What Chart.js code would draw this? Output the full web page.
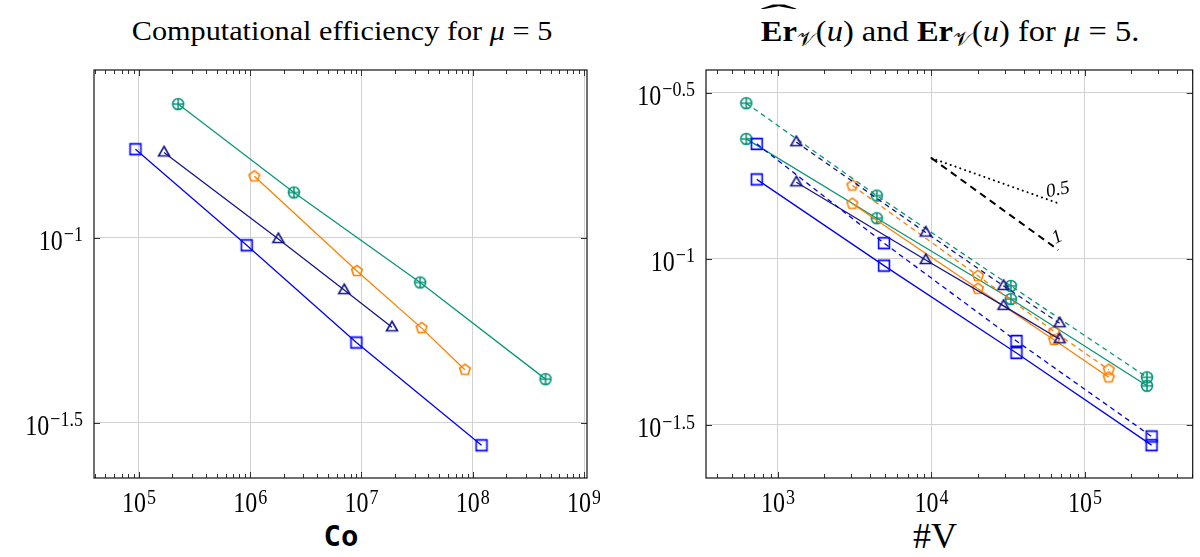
<!DOCTYPE html>
<html>
<head>
<meta charset="utf-8">
<title>Computational efficiency and error estimates</title>
<script src="https://cdn.jsdelivr.net/npm/chart.js"></script>
<style>
  body { margin: 0; width: 1200px; height: 557px; position: relative; background: #fff; overflow: hidden; font-family: "Liberation Serif", serif; color: #000; }
  canvas { position: absolute; top: 0; }
  #effChart { left: 0; }
  #errChart { left: 600px; }
  .txt { position: absolute; white-space: nowrap; line-height: 1; transform: translateX(-50%); }
  #t1 { left: 342px; top: 17px; font-size: 28px; transform: translateX(-50%) scaleX(1.08); }
  #t2 { left: 950px; top: 17px; font-size: 29px; transform: translateX(-50%) scaleX(1.12); }
  #a1 { left: 341px; top: 522px; font-family: "DejaVu Sans Mono", monospace; font-weight: bold; font-size: 29px; }
  #a2 { left: 935px; top: 518px; font-size: 36px; }
  .hat { position: relative; display: inline-block; font-weight: bold; }
  .hat .mk { position: absolute; left: 50%; top: -16px; transform: translateX(-50%) scaleX(3.4); font-weight: normal; }
  sub { font-size: 20px; vertical-align: -5px; }
</style>
</head>
<body>
<div class="txt" id="t1">Computational efficiency for <i>μ</i> = 5</div>
<div class="txt" id="t2"><span class="hat">Er<span class="mk">ˆ</span></span><sub>𝒱</sub>(<i>u</i>) and <b>Er</b><sub>𝒱</sub>(<i>u</i>) for <i>μ</i> = 5.</div>
<div class="txt" id="a1">Co</div>
<div class="txt" id="a2">#V</div>
<canvas id="effChart" width="600" height="557"></canvas>
<canvas id="errChart" width="600" height="557"></canvas>

<script>
// left panel: cost Co against error Er
const coSquares = [9.3e4, 9.3e5, 9.0e6, 1.2e8];
const erSquares = [0.1734, 0.0954, 0.0521, 0.0275];
const coTriangles = [1.68e5, 1.79e6, 7.0e6, 1.88e7];
const erTriangles = [0.1700, 0.0992, 0.0722, 0.0573];
const coPentagons = [1.09e6, 9.1e6, 3.47e7, 8.5e7];
const erPentagons = [0.1465, 0.0813, 0.0570, 0.0440];
const coCircles = [2.25e5, 2.47e6, 3.37e7, 4.51e8];
const erCircles = [0.2296, 0.1325, 0.0757, 0.0415];

// right panel: #V against estimate (dashed) and error (solid)
const nvSquares = [728, 4910, 35800, 271800];
const estSquares = [0.2218, 0.1115, 0.0566, 0.0292];
const nvTriangles = [1318, 9180, 29500, 68400];
const estTriangles = [0.2245, 0.1200, 0.0829, 0.0640];
const nvPentagons = [3053, 20100, 63100, 142900];
const estPentagons = [0.1662, 0.0889, 0.0604, 0.0464];
const nvCircles = [622, 4405, 32900, 253600];
const estCircles = [0.2940, 0.1550, 0.0829, 0.0440];

// slope guides
const slopeX = [1.0e4, 6.7e4];
const slopeHalf = [0.201, 0.147];
const slopeOne = [0.201, 0.1064];

// decade exponents used for ticks
const effXExp = [5, 6, 7, 8, 9];
const effYExp = [-1, -1.5];
const errXExp = [3, 4, 5];
const errYExp = [-0.5, -1, -1.5];

const BLUE = '#0000ff', NAVY = '#14148c', ORANGE = '#ff8000', TEAL = '#0a9678';

function marker(kind, color) {
  const s = 18, c = document.createElement('canvas');
  c.width = s; c.height = s;
  const g = c.getContext('2d');
  g.strokeStyle = color; g.lineWidth = 1.6;
  const m = s / 2;
  g.beginPath();
  if (kind === 'square') {
    g.rect(m - 5.4, m - 5.4, 10.8, 10.8);
  } else if (kind === 'triangle') {
    g.moveTo(m, m - 6); g.lineTo(m + 5.5, m + 3.5); g.lineTo(m - 5.5, m + 3.5); g.closePath();
  } else if (kind === 'pentagon') {
    for (let k = 0; k < 5; k++) {
      const a = -Math.PI / 2 + k * 2 * Math.PI / 5;
      const px = m + 5.6 * Math.cos(a), py = m + 5.6 * Math.sin(a);
      k ? g.lineTo(px, py) : g.moveTo(px, py);
    }
    g.closePath();
  } else {
    g.arc(m, m, 5.5, 0, 2 * Math.PI);
    g.moveTo(m - 5.5, m); g.lineTo(m + 5.5, m);
    g.moveTo(m, m - 5.5); g.lineTo(m, m + 5.5);
  }
  g.stroke();
  return c;
}

const pts = (xs, ys) => xs.map((v, i) => ({x: v, y: ys[i]}));

function series(xs, ys, color, kind, dashed) {
  return {
    data: pts(xs, ys),
    showLine: true,
    borderColor: color,
    borderWidth: 1.3,
    borderDash: dashed ? [5, 4] : [],
    pointStyle: marker(kind, color),
    pointRadius: 6,
    pointHoverRadius: 6
  };
}

function guide(ys, dash, cap) {
  return {
    data: pts(slopeX, ys),
    showLine: true,
    borderColor: '#000',
    borderWidth: 2,
    borderDash: dash,
    borderCapStyle: cap,
    pointRadius: 0
  };
}

function powLabel(ctx, exp, x, y, align) {
  const big = '24px "Liberation Serif"', small = '18px "Liberation Serif"';
  const sup = exp < 0 ? '\u2212' + String(-exp) : String(exp);
  ctx.font = big;
  const w1 = ctx.measureText('10').width;
  ctx.font = small;
  const w2 = ctx.measureText(sup).width;
  const total = w1 + 1 + w2;
  const x0 = align === 'center' ? x - total / 2 : x - total;
  ctx.save();
  ctx.translate(x0, y);
  ctx.scale(1, 1.2);
  ctx.font = big;
  ctx.fillText('10', 0, 0);
  ctx.font = small;
  ctx.fillText(sup, w1 + 1, -7);
  ctx.restore();
}

const framePlugin = {
  id: 'frame',
  afterDraw(chart, args, opts) {
    const {ctx, chartArea: a, scales: {x, y}} = chart;
    ctx.save();
    ctx.strokeStyle = '#333';
    ctx.lineWidth = 1;
    ctx.beginPath();
    const lo = Math.floor(Math.log10(x.min)), hi = Math.ceil(Math.log10(x.max));
    for (let e = lo; e <= hi; e++) {
      for (let m = 1; m < 10; m++) {
        const v = m * Math.pow(10, e);
        if (v < x.min || v > x.max) continue;
        const px = Math.round(x.getPixelForValue(v)) + 0.5;
        const len = m === 1 ? 6 : 4;
        ctx.moveTo(px, a.top); ctx.lineTo(px, a.top + len);
        ctx.moveTo(px, a.bottom); ctx.lineTo(px, a.bottom - len);
      }
    }
    opts.yExp.forEach(e => {
      const py = Math.round(y.getPixelForValue(Math.pow(10, e))) + 0.5;
      ctx.moveTo(a.left, py); ctx.lineTo(a.left + 6, py);
      ctx.moveTo(a.right, py); ctx.lineTo(a.right - 6, py);
    });
    ctx.stroke();
    ctx.strokeStyle = '#111';
    ctx.lineWidth = 1.2;
    ctx.strokeRect(a.left, a.top, a.right - a.left, a.bottom - a.top);

    ctx.fillStyle = '#000';
    ctx.textBaseline = 'alphabetic';
    ctx.textAlign = 'left';
    opts.xExp.forEach(e => powLabel(ctx, e, x.getPixelForValue(Math.pow(10, e)), 512, 'center'));
    opts.yExp.forEach(e => powLabel(ctx, e, a.left - 11, y.getPixelForValue(Math.pow(10, e)) + 12, 'right'));

    if (opts.slopes) {
      ctx.font = 'italic 19px "Liberation Serif"';
      ctx.save();
      ctx.translate(x.getPixelForValue(slopeX[1]) - 11, y.getPixelForValue(slopeHalf[1]) - 6);
      ctx.rotate(-0.2);
      ctx.fillText('0.5', 0, 0);
      ctx.restore();
      ctx.save();
      ctx.translate(x.getPixelForValue(slopeX[1]) - 3, y.getPixelForValue(slopeOne[1]) - 6);
      ctx.rotate(-0.45);
      ctx.fillText('1', 0, 0);
      ctx.restore();
    }
    ctx.restore();
  }
};

function makeOptions(xMin, xMax, yMin, yMax, xExp, yExp, pad, slopes) {
  return {
    responsive: false,
    animation: false,
    events: [],
    layout: {padding: pad},
    plugins: {
      legend: {display: false},
      tooltip: {enabled: false},
      frame: {xExp: xExp, yExp: yExp, slopes: slopes}
    },
    scales: {
      x: {
        type: 'logarithmic', min: xMin, max: xMax,
        afterBuildTicks: s => { s.ticks = xExp.map(e => ({value: Math.pow(10, e)})); },
        afterFit: s => { s.height = 0; },
        ticks: {display: false},
        grid: {color: '#d2d2d2', lineWidth: 1, drawTicks: false},
        border: {display: false}
      },
      y: {
        type: 'logarithmic', min: yMin, max: yMax,
        afterBuildTicks: s => { s.ticks = yExp.map(e => ({value: Math.pow(10, e)})); },
        afterFit: s => { s.width = 0; },
        ticks: {display: false},
        grid: {color: '#d2d2d2', lineWidth: 1, drawTicks: false},
        border: {display: false}
      }
    }
  };
}

new Chart(document.getElementById('effChart'), {
  type: 'scatter',
  data: {
    datasets: [
      series(coSquares, erSquares, BLUE, 'square'),
      series(coTriangles, erTriangles, NAVY, 'triangle'),
      series(coPentagons, erPentagons, ORANGE, 'pentagon'),
      series(coCircles, erCircles, TEAL, 'oplus')
    ]
  },
  options: makeOptions(3.945e4, 1.064e9, 0.02244, 0.2838, effXExp, effYExp,
    {left: 94, right: 13, top: 70, bottom: 79}, false),
  plugins: [framePlugin]
});

new Chart(document.getElementById('errChart'), {
  type: 'scatter',
  data: {
    datasets: [
      series(nvSquares, erSquares, BLUE, 'square'),
      series(nvSquares, estSquares, BLUE, 'square', true),
      series(nvTriangles, erTriangles, NAVY, 'triangle'),
      series(nvTriangles, estTriangles, NAVY, 'triangle', true),
      series(nvPentagons, erPentagons, ORANGE, 'pentagon'),
      series(nvPentagons, estPentagons, ORANGE, 'pentagon', true),
      series(nvCircles, erCircles, TEAL, 'oplus'),
      series(nvCircles, estCircles, TEAL, 'oplus', true),
      guide(slopeHalf, [0.1, 5], 'round'),
      guide(slopeOne, [7, 5], 'butt')
    ]
  },
  options: makeOptions(340, 5.035e5, 0.02190, 0.3701, errXExp, errYExp,
    {left: 106, right: 2, top: 70, bottom: 79}, true),
  plugins: [framePlugin]
});
</script>
</body>
</html>
